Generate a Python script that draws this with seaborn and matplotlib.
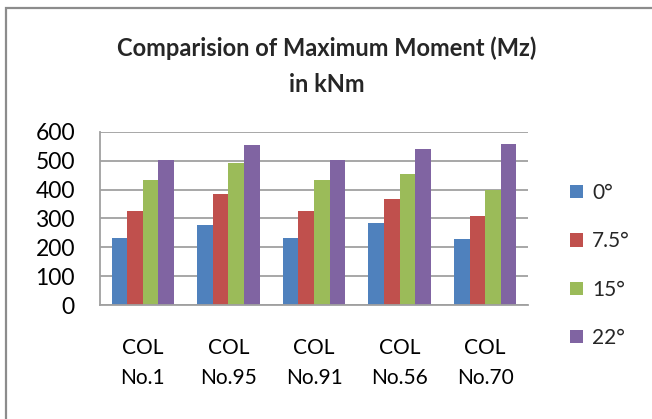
import matplotlib
matplotlib.use("Agg")
import matplotlib.pyplot as plt
from matplotlib.patches import Rectangle
import seaborn as sns
import pandas as pd

# Columns compared and the inclination angles
columns = ["COL\nNo.1", "COL\nNo.95", "COL\nNo.91", "COL\nNo.56", "COL\nNo.70"]
angles = ["0°", "7.5°", "15°", "22°"]

# Maximum moment Mz (kNm) per column, one list per angle
mz_0 = [233, 277, 232, 286, 229]
mz_7_5 = [327, 384, 327, 367, 308]
mz_15 = [433, 491, 433, 456, 399]
mz_22 = [503, 554, 503, 541, 557]

y_ticks = [0, 100, 200, 300, 400, 500, 600]
palette = ["#4F81BD", "#C0504D", "#9BBB59", "#8064A2"]

series = [mz_0, mz_7_5, mz_15, mz_22]
df = pd.DataFrame(
    [(c, a, v) for a, vals in zip(angles, series) for c, v in zip(columns, vals)],
    columns=["column", "angle", "moment"],
)

sns.set_theme(style="white")
plt.rcParams["font.family"] = ["Lato", "DejaVu Sans"]

fig = plt.figure(figsize=(6.52, 4.19), dpi=100)
ax = fig.add_axes([100 / 652, 1 - 305 / 419, 428 / 652, 173 / 419])

sns.barplot(
    data=df, x="column", y="moment", hue="angle",
    order=columns, hue_order=angles, palette=palette,
    width=0.73, saturation=1, edgecolor="none", ax=ax, legend=True,
)

ax.set_ylim(0, 600)
ax.set_yticks(y_ticks)
ax.set_xlim(-0.5, len(columns) - 0.5)
ax.yaxis.grid(True, color="#A0A0A0", linewidth=1.3)
ax.set_axisbelow(True)
ax.set_xlabel("")
ax.set_ylabel("")
for side in ["top", "right"]:
    ax.spines[side].set_visible(False)
for side in ["left", "bottom"]:
    ax.spines[side].set_color("#A0A0A0")
    ax.spines[side].set_linewidth(1.3)

# Move the seaborn legend to the figure's right margin
handles, labels = ax.get_legend_handles_labels()
ax.get_legend().remove()
fig.legend(
    handles, labels, loc="upper left",
    bbox_to_anchor=(570 / 652, 1 - 183 / 419), bbox_transform=fig.transFigure,
    frameon=False, fontsize=15, handlelength=0.62, handleheight=0.62,
    handletextpad=0.45, labelspacing=1.36, borderpad=0, borderaxespad=0,
)

ax.xaxis.set_tick_params(length=0, labelsize=15, pad=24, labelcolor="#000000")
ax.yaxis.set_tick_params(length=0, labelsize=16.5, pad=18, labelcolor="#000000")
for lbl in ax.get_xticklabels():
    lbl.set_linespacing(1.6)

fig.text(327 / 652, 1 - 56 / 419, "Comparision of Maximum Moment (Mz)",
         ha="center", va="baseline", fontsize=17, fontweight="bold")
fig.text(327 / 652, 1 - 92 / 419, "in kNm",
         ha="center", va="baseline", fontsize=17, fontweight="bold")

# Chart frame, left and top edges visible
fig.patches.append(Rectangle((6 / 652, -0.05), 1.2, 1 - 8 / 419 + 0.05,
                             transform=fig.transFigure, fill=False,
                             edgecolor="#8C8C8C", linewidth=1.6))

fig.savefig("out.png", dpi=100, facecolor="white")
